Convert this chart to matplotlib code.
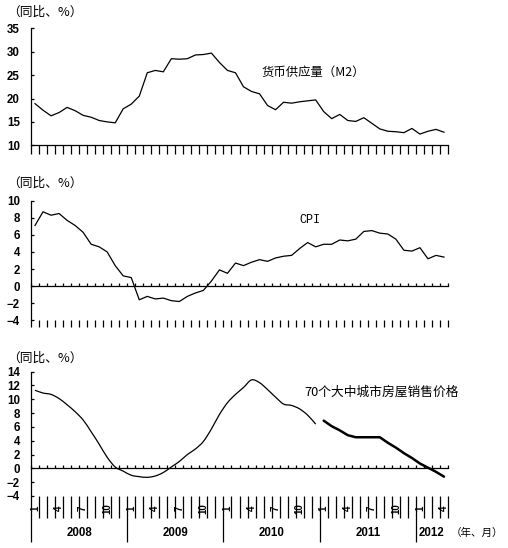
import numpy as np
import matplotlib
matplotlib.use('Agg')
import matplotlib.pyplot as plt
from matplotlib.path import Path
from matplotlib.patches import PathPatch
from matplotlib.transforms import blended_transform_factory

plt.rcParams['font.family'] = ['Liberation Sans', 'Noto Sans CJK SC', 'DejaVu Sans']
CJK = ['Noto Sans CJK SC', 'DejaVu Sans']

# ---------------- data (2008-01 .. 2012-04) ----------------
m2 = [18.9, 17.5, 16.3, 17.0, 18.1, 17.4, 16.4, 16.0, 15.3, 15.0, 14.8, 17.8,
      18.8, 20.5, 25.5, 26.0, 25.7, 28.5, 28.4, 28.5, 29.3, 29.4, 29.7, 27.7,
      26.0, 25.5, 22.5, 21.5, 21.0, 18.5, 17.6, 19.2, 19.0, 19.3, 19.5, 19.7,
      17.2, 15.7, 16.6, 15.3, 15.1, 15.9, 14.7, 13.5, 13.0, 12.9, 12.7, 13.6,
      12.4, 13.0, 13.4, 12.8]
cpi = [7.1, 8.7, 8.3, 8.5, 7.7, 7.1, 6.3, 4.9, 4.6, 4.0, 2.4, 1.2,
       1.0, -1.6, -1.2, -1.5, -1.4, -1.7, -1.8, -1.2, -0.8, -0.5, 0.6, 1.9,
       1.5, 2.7, 2.4, 2.8, 3.1, 2.9, 3.3, 3.5, 3.6, 4.4, 5.1, 4.6,
       4.9, 4.9, 5.4, 5.3, 5.5, 6.4, 6.5, 6.2, 6.1, 5.5, 4.2, 4.1,
       4.5, 3.2, 3.6, 3.4]
house_old = [11.3, 10.9, 10.7, 10.1, 9.2, 8.2, 7.0, 5.3, 3.5, 1.6, 0.2, -0.4,
             -1.0, -1.2, -1.3, -1.1, -0.6, 0.2, 1.0, 2.0, 2.8, 3.9, 5.7, 7.8,
             9.5, 10.7, 11.7, 12.8, 12.4, 11.4, 10.3, 9.3, 9.1, 8.6, 7.7, 6.4]
house_new = [6.9, 6.1, 5.5, 4.8, 4.5, 4.5, 4.5, 4.5, 3.7, 3.0, 2.2, 1.5,
             0.7, 0.1, -0.5, -1.2]
years = ['2008', '2009', '2010', '2011', '2012']
months_per_year = [12, 12, 12, 12, 4]
month_labels = ['1', '4', '7', '10']

ylabel_txt = '（同比、%）'
title_m2 = '货币供应量（M2）'
title_cpi = 'CPI'
title_house = '70个大中城市房屋销售价格'
xunit_txt = '（年、月）'

n = len(m2)
x = np.arange(n) + 0.5

W, H = 508, 548
fig = plt.figure(figsize=(W / 100, H / 100), dpi=100)


def axes_px(top, bottom, left=31, right=448):
    return [left / W, 1 - bottom / H, (right - left) / W, (bottom - top) / H]


def style_axes(ax, ylim, yticks):
    ax.set_xlim(0, n)
    ax.set_ylim(*ylim)
    ax.set_yticks(yticks)
    ax.set_yticklabels([str(v).replace('-', '−') for v in yticks],
                       fontweight='bold')
    ax.spines['top'].set_visible(False)
    ax.spines['right'].set_visible(False)
    ax.spines['left'].set_linewidth(0.9)
    ax.spines['bottom'].set_linewidth(0.9)
    ax.tick_params(axis='y', direction='in', length=2, width=0.9, pad=8,
                   labelsize=8.3)
    ax.set_xticks(np.arange(n + 1))
    ax.tick_params(axis='x', labelbottom=False, width=0.9)
    ax.patch.set_alpha(0)


def smooth_path(xs, ys):
    pts = np.column_stack([xs, ys]).astype(float)
    m = len(pts)
    verts = [pts[0]]
    codes = [Path.MOVETO]
    for i in range(m - 1):
        p0 = pts[i - 1] if i > 0 else pts[i]
        p1 = pts[i]
        p2 = pts[i + 1]
        p3 = pts[i + 2] if i + 2 < m else pts[i + 1]
        verts += [p1 + (p2 - p0) / 6, p2 - (p3 - p1) / 6, p2]
        codes += [Path.CURVE4] * 3
    return Path(verts, codes)


# ---------------- panel 1: M2 ----------------
ax1 = fig.add_axes(axes_px(28.3, 145.3))
style_axes(ax1, (10, 35), np.arange(10, 36, 5))
ax1.tick_params(axis='x', direction='out', length=6.5)
ax1.plot(x, m2, color='black', lw=0.9)

# ---------------- panel 2: CPI ----------------
ax2 = fig.add_axes(axes_px(200.7, 320.3))
style_axes(ax2, (-4, 10), np.arange(-4, 11, 2))
ax2.spines['bottom'].set_position(('data', 0))
ax2.tick_params(axis='x', direction='in', length=2.5)
sec2 = ax2.secondary_xaxis('bottom')
sec2.spines['bottom'].set_visible(False)
sec2.set_xticks(np.arange(n + 1))
sec2.tick_params(direction='out', length=5, width=0.9, labelbottom=False)
ax2.plot(x, cpi, color='black', lw=0.9)

# ---------------- panel 3: housing price ----------------
ax3 = fig.add_axes(axes_px(371.6, 496))
style_axes(ax3, (-4, 14), np.arange(-4, 15, 2))
ax3.spines['bottom'].set_position(('data', 0))
ax3.tick_params(axis='x', direction='in', length=2.5)
year_starts = np.concatenate([[0], np.cumsum(months_per_year)[:-1]])
minor_pos = [p for p in range(n + 1) if p not in set(year_starts)]
sec3 = ax3.secondary_xaxis('bottom')
sec3.spines['bottom'].set_visible(False)
sec3.set_xticks(year_starts)
sec3.set_xticks(minor_pos, minor=True)
sec3.tick_params(which='major', direction='out', length=33, width=0.9,
                 labelbottom=False)
sec3.tick_params(which='minor', direction='out', length=16, width=0.9,
                 labelbottom=False)

n_old = len(house_old)
ax3.add_patch(PathPatch(smooth_path(x[:n_old], house_old), fill=False,
                        ec='black', lw=0.9))
ax3.plot(x[n_old:n_old + len(house_new)], house_new, color='black', lw=1.8,
         solid_joinstyle='round', solid_capstyle='round')

trans3 = blended_transform_factory(ax3.transData, ax3.transAxes)
ax_h = 496 - 371.6
for yi, (start, cnt) in enumerate(zip(year_starts, months_per_year)):
    for mi in range(cnt):
        lbl = str(mi + 1)
        if lbl in month_labels:
            ax3.text(start + mi + 0.5, -(508.5 - 496) / ax_h, lbl,
                     transform=trans3, rotation=90, ha='center', va='center',
                     fontsize=7, fontweight='bold')
    ax3.text(start + cnt / 2, -(533 - 496) / ax_h, years[yi],
             transform=trans3, ha='center', va='center', fontsize=8.3,
             fontweight='bold')
fig.text(451 / W, 1 - 533 / H, xunit_txt, ha='left', va='center',
         fontsize=7.6, family=CJK)

# ---------------- texts ----------------
for ypix in (12, 183, 358):
    fig.text(7 / W, 1 - ypix / H, ylabel_txt, ha='left', va='center',
             fontsize=9.2, family=CJK)
fig.text(262 / W, 1 - 72 / H, title_m2, ha='left', va='center',
         fontsize=8.9, family=CJK)
fig.text(299 / W, 1 - 220 / H, title_cpi, ha='left', va='center',
         fontsize=8.5, family=['Liberation Mono', 'DejaVu Sans'])
fig.text(304 / W, 1 - 392 / H, title_house, ha='left', va='center',
         fontsize=9.2, family=CJK)

fig.savefig('out.png', dpi=100)
